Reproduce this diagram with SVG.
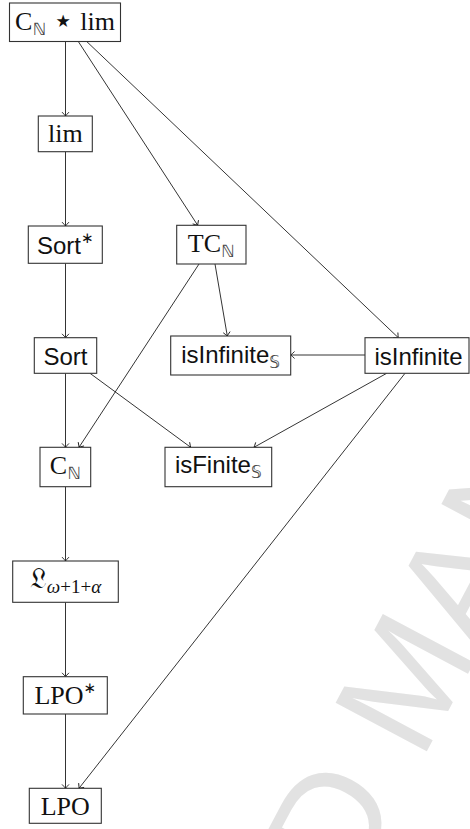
<svg xmlns="http://www.w3.org/2000/svg" width="470" height="829" viewBox="0 0 470 829">
<defs>
<marker id="arr" markerUnits="userSpaceOnUse" markerWidth="10" markerHeight="10" refX="0" refY="0" viewBox="-6 -5 8 10" orient="auto" overflow="visible">
<path d="M-3.6,-3.2 Q-1.2,-0.9 0,0 Q-1.2,0.9 -3.6,3.2" fill="none" stroke="#000" stroke-width="0.8" stroke-linecap="round"/>
</marker>
</defs>
<style>
.box{fill:#fff;stroke:#333;stroke-width:1.1}
.e{fill:none;stroke:#000;stroke-width:0.8;marker-end:url(#arr)}
.rm{font-family:"Liberation Serif","DejaVu Serif",serif;font-size:26px;fill:#111;text-anchor:middle}
.sf{font-family:"Liberation Sans","DejaVu Sans",sans-serif;font-size:24px;fill:#111;text-anchor:middle}
.bb{font-family:"DejaVu Sans","DejaVu Serif",sans-serif;font-size:17px;fill:#444}
.sup{font-family:"DejaVu Sans",sans-serif;font-size:15px}
.wm{font-family:"Liberation Sans","DejaVu Sans",sans-serif;font-size:150px;fill:#e2e2e2}
</style>
<g id="watermark">
<text class="wm" transform="translate(421,762) rotate(-62)"><tspan x="-858">ACCEPTED</tspan><tspan x="0">MANUSCRIPT</tspan></text>
</g>
<g id="connectors">
<line class="e" x1="65.5" y1="41.5" x2="65.5" y2="116"/>
<line class="e" x1="78.3" y1="41.5" x2="197.7" y2="225.3"/>
<line class="e" x1="86.7" y1="41.5" x2="398.3" y2="337.7"/>
<line class="e" x1="65.5" y1="151.7" x2="65.5" y2="226"/>
<line class="e" x1="65.5" y1="263.3" x2="65.5" y2="337.7"/>
<line class="e" x1="215" y1="264" x2="227.3" y2="336"/>
<line class="e" x1="199" y1="264" x2="79" y2="447.3"/>
<line class="e" x1="365" y1="355" x2="290.7" y2="355"/>
<line class="e" x1="65.5" y1="373.3" x2="65.5" y2="447.3"/>
<line class="e" x1="90" y1="373.3" x2="190.7" y2="447.3"/>
<line class="e" x1="386.7" y1="373.3" x2="254" y2="447.3"/>
<line class="e" x1="405" y1="373.3" x2="79" y2="788.3"/>
<line class="e" x1="65.5" y1="486.7" x2="65.5" y2="561"/>
<line class="e" x1="65.5" y1="602.3" x2="65.5" y2="676.7"/>
<line class="e" x1="65.5" y1="714" x2="65.5" y2="788.3"/>
</g>
<g id="n_clim">
<rect class="box" x="9.5" y="3" width="111" height="38.5"/>
<text class="rm" x="65" y="30">C<tspan class="bb" dy="5">ℕ</tspan><tspan dy="-5"> </tspan><tspan font-family="DejaVu Sans,sans-serif" font-size="34" dy="2">⋆</tspan><tspan dy="-2"> lim</tspan></text>
</g>
<g id="n_lim">
<rect class="box" x="38.3" y="116" width="54" height="35.7"/>
<text class="rm" x="65.3" y="142">lim</text>
</g>
<g id="n_sortstar">
<rect class="box" x="28.3" y="226" width="74" height="37.3"/>
<text class="sf" x="65.3" y="254.3">Sort<tspan class="sup" dy="-11">∗</tspan></text>
</g>
<g id="n_tcn">
<rect class="box" x="176.7" y="225.3" width="69.3" height="38.7"/>
<text class="rm" x="211.3" y="252">TC<tspan class="bb" dy="5">ℕ</tspan></text>
</g>
<g id="n_sort">
<rect class="box" x="34.3" y="337.7" width="62.4" height="35.6"/>
<text class="sf" x="65.5" y="365">Sort</text>
</g>
<g id="n_isinfS">
<rect class="box" x="170.7" y="336" width="120" height="39"/>
<text class="sf" x="230.7" y="363">isInfinite<tspan class="bb" dy="5">𝕊</tspan></text>
</g>
<g id="n_isinf">
<rect class="box" x="365" y="337.7" width="104" height="35.6"/>
<text class="sf" x="418.5" y="365">isInfinite</text>
</g>
<g id="n_cn">
<rect class="box" x="40" y="447.3" width="50.7" height="39.4"/>
<text class="rm" x="65.3" y="473.5">C<tspan class="bb" dy="5">ℕ</tspan></text>
</g>
<g id="n_isfinS">
<rect class="box" x="165" y="447.3" width="106.7" height="39.4"/>
<text class="sf" x="218.3" y="473">isFinite<tspan class="bb" dy="5">𝕊</tspan></text>
</g>
<g id="n_frak">
<rect class="box" x="12.7" y="561" width="105.6" height="41.3"/>
<text class="rm" x="65.5" y="587.5"><tspan font-family="DejaVu Serif,DejaVu Sans,serif" font-size="28">𝔏</tspan><tspan font-size="19" dy="5"><tspan font-style="italic">ω</tspan>+1+<tspan font-style="italic">α</tspan></tspan></text>
</g>
<g id="n_lpostar">
<rect class="box" x="23.3" y="676.7" width="84" height="37.3"/>
<text class="rm" x="65.3" y="704">LPO<tspan class="sup" dy="-11">∗</tspan></text>
</g>
<g id="n_lpo">
<rect class="box" x="29.3" y="788.3" width="72" height="35"/>
<text class="rm" x="65.3" y="815">LPO</text>
</g>
</svg>
